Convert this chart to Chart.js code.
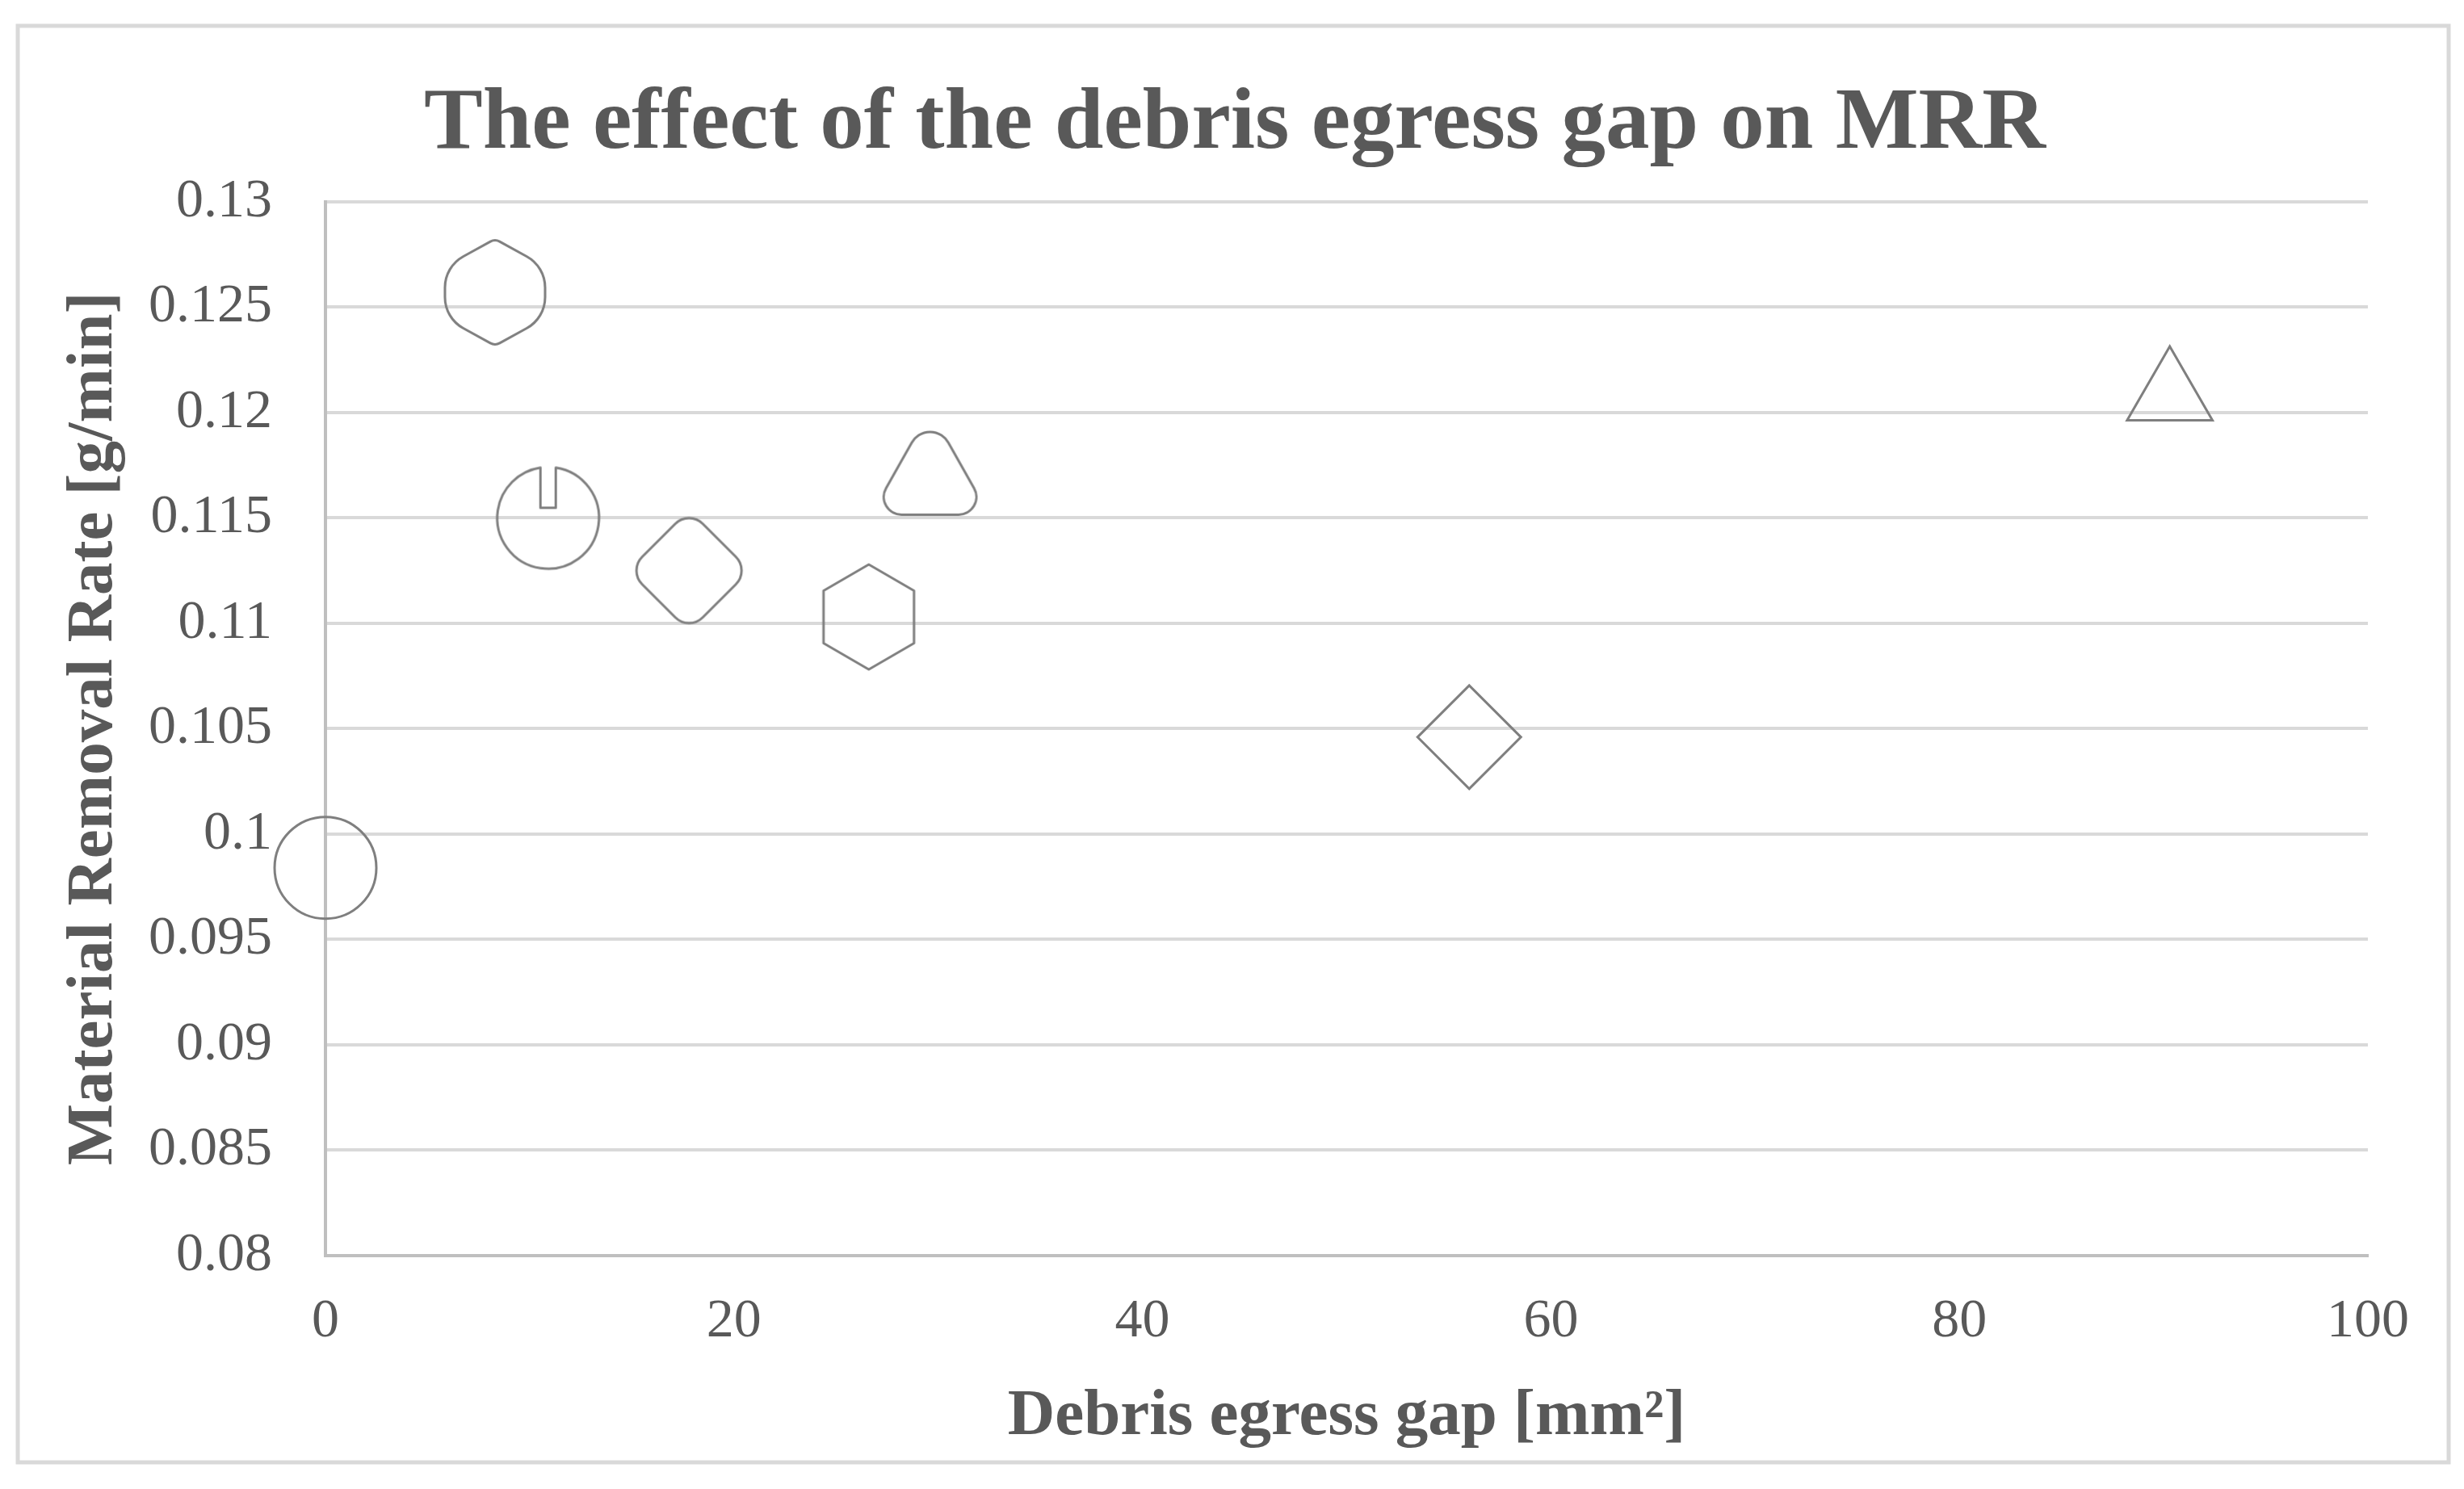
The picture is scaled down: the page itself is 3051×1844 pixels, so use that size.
<!DOCTYPE html>
<html>
<head>
<meta charset="utf-8">
<script src="https://cdn.jsdelivr.net/npm/chart.js@4.4.1/dist/chart.umd.min.js"></script>
<style>
  html, body { margin: 0; padding: 0; background: #fff; }
  #wrap { position: absolute; left: 0; top: 0; width: 3051px; height: 1844px; }
</style>
</head>
<body>
<div id="wrap"><canvas id="mrr"></canvas></div>
<script>
// Debris egress gap vs MRR — one marker per tool geometry
var gapX = [0, 8.3, 10.9, 17.8, 26.6, 29.6, 56.0, 90.3];
var mrrY = [0.0984, 0.1257, 0.1150, 0.1125, 0.1103, 0.1172, 0.1046, 0.1208];
var markerKinds = ['circle', 'roundHex', 'notchCircle', 'roundDiamond', 'hexagon', 'roundTriangle', 'diamond', 'triangle'];

var xTicks = [0, 20, 40, 60, 80, 100];
var yTicks = [0.08, 0.085, 0.09, 0.095, 0.1, 0.105, 0.11, 0.115, 0.12, 0.125, 0.13];

var TEXT = '#595959';
var GRID = '#d9d9d9';
var AXIS = '#bfbfbf';
var MARK = '#7f7f7f';
var SERIF = "'Liberation Serif', 'Times New Roman', serif";

function makeMarker(half, draw) {
  var c = document.createElement('canvas');
  c.width = half * 2; c.height = half * 2;
  var g = c.getContext('2d');
  g.translate(half, half);
  g.strokeStyle = MARK; g.lineWidth = 3; g.lineJoin = 'round';
  g.beginPath();
  draw(g);
  g.closePath();
  g.stroke();
  return c;
}

function roundPoly(g, pts, radii) {
  var n = pts.length;
  var a = pts[n - 1], b = pts[0];
  g.moveTo((a[0] + b[0]) / 2, (a[1] + b[1]) / 2);
  for (var i = 0; i < n; i++) {
    var p = pts[i], q = pts[(i + 1) % n];
    g.arcTo(p[0], p[1], (p[0] + q[0]) / 2, (p[1] + q[1]) / 2, radii[i]);
  }
}

var customMarkers = {
  roundHex: makeMarker(76, function(g) {
    roundPoly(g, [[0, -66], [62, -32], [62, 32], [0, 66], [-62, 32], [-62, -32]], [12, 44, 44, 12, 44, 44]);
  }),
  notchCircle: makeMarker(70, function(g) {
    var r = 63, hw = 9.5, a = Math.asin(hw / r);
    g.arc(0, 0, r, -Math.PI / 2 + a, 1.5 * Math.PI - a, false);
    g.lineTo(-hw, -12.5);
    g.lineTo(hw, -12.5);
  }),
  roundDiamond: makeMarker(80, function(g) {
    roundPoly(g, [[0, -75], [75, 0], [0, 75], [-75, 0]], [24, 24, 24, 24]);
  }),
  hexagon: makeMarker(70, function(g) {
    g.moveTo(0, -65); g.lineTo(56, -32.5); g.lineTo(56, 32.5);
    g.lineTo(0, 65); g.lineTo(-56, 32.5); g.lineTo(-56, -32.5);
  }),
  roundTriangle: makeMarker(80, function(g) {
    roundPoly(g, [[0, -76], [73, 53.5], [-73, 53.5]], [26, 22, 22]);
  })
};

var builtIn = {
  circle: { style: 'circle', radius: 63 },
  diamond: { style: 'rectRot', radius: 64 },
  triangle: { style: 'triangle', radius: 61 }
};

var datasets = gapX.map(function(x, i) {
  var kind = markerKinds[i];
  var b = builtIn[kind];
  return {
    label: kind,
    data: [{ x: x, y: mrrY[i] }],
    pointStyle: b ? b.style : customMarkers[kind],
    pointRadius: b ? b.radius : 60,
    pointBorderColor: MARK,
    pointBorderWidth: 3,
    pointBackgroundColor: 'rgba(0,0,0,0)',
    clip: false
  };
});

var framePlugin = {
  id: 'frame',
  beforeDraw: function(chart) {
    var ctx = chart.ctx;
    ctx.save();
    ctx.fillStyle = '#fff';
    ctx.fillRect(0, 0, chart.width, chart.height);
    ctx.strokeStyle = GRID;
    ctx.lineWidth = 5;
    ctx.strokeRect(22, 32, 3010, 1779);
    ctx.restore();
  }
};

new Chart(document.getElementById('mrr'), {
  type: 'scatter',
  data: { datasets: datasets },
  plugins: [framePlugin],
  options: {
    responsive: true, maintainAspectRatio: false,
    animation: false,
    events: [],
    layout: { padding: { left: 7, right: 0, top: 0, bottom: 0 } },
    plugins: {
      legend: { display: false },
      tooltip: { enabled: false },
      title: {
        display: true,
        text: 'The effect of the debris egress gap on MRR',
        color: TEXT,
        font: { family: SERIF, size: 109, weight: 'bold' },
        padding: { top: 89, bottom: 30 }
      }
    },
    scales: {
      x: {
        type: 'linear', min: 0, max: 100,
        afterBuildTicks: function(s) { s.ticks = xTicks.map(function(v) { return { value: v }; }); },
        afterFit: function(s) { s.height = 289; },
        grid: { display: false, drawTicks: false },
        border: { display: true, color: AXIS, width: 4 },
        ticks: { color: TEXT, font: { family: SERIF, size: 68 }, padding: 41, maxRotation: 0 },
        title: {
          display: true, text: 'Debris egress gap [mm²]', color: TEXT,
          font: { family: SERIF, size: 81, weight: 'bold' },
          padding: { top: 0, bottom: 40 }
        }
      },
      y: {
        type: 'linear', min: 0.08, max: 0.13,
        afterBuildTicks: function(s) { s.ticks = yTicks.map(function(v) { return { value: v }; }); },
        afterFit: function(s) { s.width = 396; },
        grid: { color: GRID, lineWidth: 4, drawTicks: false },
        border: { display: true, color: AXIS, width: 4 },
        ticks: {
          color: TEXT, font: { family: SERIF, size: 68 }, padding: 66,
          callback: function(v) { return String(Number(v.toFixed(3))); }
        },
        title: {
          display: true, text: 'Material Removal Rate [g/min]', color: TEXT,
          font: { family: SERIF, size: 81, weight: 'bold' },
          padding: { top: 61, bottom: 0 }
        }
      },
      // empty right-hand gutter so the chart area ends where the reference does
      gutter: {
        type: 'linear', position: 'right', min: 0, max: 1,
        afterFit: function(s) { s.width = 119; },
        grid: { display: false, drawTicks: false },
        border: { display: false },
        ticks: { display: false }
      }
    }
  }
});
</script>
</body>
</html>
